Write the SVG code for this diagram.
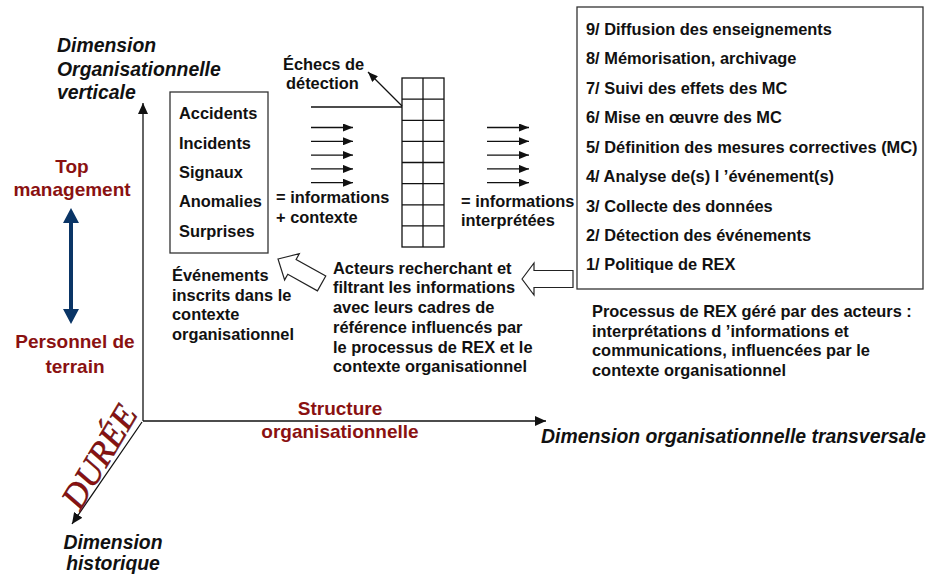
<svg xmlns="http://www.w3.org/2000/svg" width="929" height="575" viewBox="0 0 929 575">
<defs>
<style>
.t{font-family:"Liberation Sans",Arial,sans-serif;font-weight:bold;font-size:16.4px;fill:#111}
.ax{font-family:"Liberation Sans",Arial,sans-serif;font-weight:bold;font-style:italic;font-size:19.4px;fill:#111}
.red{font-family:"Liberation Sans",Arial,sans-serif;font-weight:bold;font-size:19px;fill:#8a1111}
.box{fill:#fff;stroke:#333;stroke-width:1.3}
.ln{stroke:#111;stroke-width:1.3;fill:none}
.grid{stroke:#111;stroke-width:1.3;fill:none}
.blk{fill:#fff;stroke:#222;stroke-width:1.2}
</style>
<marker id="ah" viewBox="0 0 10 8" refX="10" refY="4" markerWidth="10" markerHeight="8" markerUnits="userSpaceOnUse" orient="auto">
<path d="M0,0 L10,4 L0,8 z" fill="#111"/>
</marker>
<marker id="axh" viewBox="0 0 11 10" refX="11" refY="5" markerWidth="11" markerHeight="10" markerUnits="userSpaceOnUse" orient="auto">
<path d="M0,0 L11,5 L0,10 z" fill="#111"/>
</marker>
</defs>
<rect width="929" height="575" fill="#fff"/>

<g id="connectors">
<line class="ln" x1="143" y1="421" x2="143" y2="103" marker-end="url(#axh)"/>
<line class="ln" x1="143" y1="421" x2="546" y2="421" marker-end="url(#axh)"/>
<line class="ln" x1="142" y1="422" x2="72" y2="524" marker-end="url(#axh)"/>
<line class="ln" x1="311" y1="107" x2="402" y2="107"/>
<line class="ln" x1="402" y1="106" x2="368" y2="72" marker-end="url(#ah)"/>
<g>
<line class="ln" x1="311" y1="127.5" x2="353" y2="127.5" marker-end="url(#ah)"/>
<line class="ln" x1="311" y1="141.3" x2="353" y2="141.3" marker-end="url(#ah)"/>
<line class="ln" x1="311" y1="155.1" x2="353" y2="155.1" marker-end="url(#ah)"/>
<line class="ln" x1="311" y1="168.9" x2="353" y2="168.9" marker-end="url(#ah)"/>
<line class="ln" x1="311" y1="182.7" x2="353" y2="182.7" marker-end="url(#ah)"/>
</g>
<g>
<line class="ln" x1="487" y1="127.5" x2="529" y2="127.5" marker-end="url(#ah)"/>
<line class="ln" x1="487" y1="141.3" x2="529" y2="141.3" marker-end="url(#ah)"/>
<line class="ln" x1="487" y1="155.1" x2="529" y2="155.1" marker-end="url(#ah)"/>
<line class="ln" x1="487" y1="168.9" x2="529" y2="168.9" marker-end="url(#ah)"/>
<line class="ln" x1="487" y1="182.7" x2="529" y2="182.7" marker-end="url(#ah)"/>
</g>
<polygon class="blk" points="0,0 16,-15 16,-8.5 50,-8.5 50,8.5 16,8.5 16,15" transform="translate(278,259) rotate(29.3)"/>
<polygon class="blk" points="522,279 534,263 534,270.5 573,270.5 573,287.5 534,287.5 534,295"/>
<g fill="#0a3566">
<rect x="69" y="220" width="4" height="92"/>
<path d="M71,208 L79,223 L63,223 z"/>
<path d="M71,324 L79,309 L63,309 z"/>
</g>
</g>

<g id="axis-vertical-label">
<text class="ax" x="57" y="52">Dimension</text>
<text class="ax" x="57" y="75.5">Organisationnelle</text>
<text class="ax" x="57" y="99">verticale</text>
</g>

<g id="top-management">
<text class="red" x="72" y="173" text-anchor="middle">Top</text>
<text class="red" x="72" y="196" text-anchor="middle">management</text>
</g>

<g id="personnel-terrain">
<text class="red" x="75" y="348" text-anchor="middle">Personnel de</text>
<text class="red" x="75" y="372.5" text-anchor="middle">terrain</text>
</g>

<g id="events-box">
<rect class="box" x="170" y="92" width="98" height="161"/>
<text class="t" x="179" y="119">Accidents</text>
<text class="t" x="179" y="148.5">Incidents</text>
<text class="t" x="179" y="178">Signaux</text>
<text class="t" x="179" y="207">Anomalies</text>
<text class="t" x="179" y="236.5">Surprises</text>
</g>

<g id="echecs">
<text class="t" x="283" y="69.5">Échecs de</text>
<text class="t" x="286" y="89">détection</text>
</g>

<g id="info-contexte">
<text class="t" x="276" y="203">= informations</text>
<text class="t" x="276" y="222.5">+ contexte</text>
</g>

<g id="filter-grid">
<rect class="grid" x="402" y="78" width="42" height="169"/>
<line class="grid" x1="423" y1="78" x2="423" y2="247"/>
<line class="grid" x1="402" y1="99.1" x2="444" y2="99.1"/>
<line class="grid" x1="402" y1="120.3" x2="444" y2="120.3"/>
<line class="grid" x1="402" y1="141.4" x2="444" y2="141.4"/>
<line class="grid" x1="402" y1="162.5" x2="444" y2="162.5"/>
<line class="grid" x1="402" y1="183.6" x2="444" y2="183.6"/>
<line class="grid" x1="402" y1="204.8" x2="444" y2="204.8"/>
<line class="grid" x1="402" y1="225.9" x2="444" y2="225.9"/>
</g>

<g id="info-interpretees">
<text class="t" x="461" y="206.5">= informations</text>
<text class="t" x="461" y="226">interprétées</text>
</g>

<g id="process-box">
<rect class="box" x="577" y="7" width="346" height="282"/>
<text class="t" x="586" y="34.5">9/ Diffusion des enseignements</text>
<text class="t" x="586" y="64">8/ Mémorisation, archivage</text>
<text class="t" x="586" y="93.5">7/ Suivi des effets des MC</text>
<text class="t" x="586" y="123">6/ Mise en œuvre des MC</text>
<text class="t" x="586" y="152.5">5/ Définition des mesures correctives (MC)</text>
<text class="t" x="586" y="182">4/ Analyse de(s) l ’événement(s)</text>
<text class="t" x="586" y="211.5">3/ Collecte des données</text>
<text class="t" x="586" y="241">2/ Détection des événements</text>
<text class="t" x="586" y="270">1/ Politique de REX</text>
</g>

<g id="evenements-label">
<text class="t" x="172" y="281">Événements</text>
<text class="t" x="172" y="300.7">inscrits dans le</text>
<text class="t" x="172" y="320.4">contexte</text>
<text class="t" x="172" y="340">organisationnel</text>
</g>

<g id="acteurs-label">
<text class="t" x="333" y="273.5">Acteurs recherchant et</text>
<text class="t" x="333" y="293.3">filtrant les informations</text>
<text class="t" x="333" y="313">avec leurs cadres de</text>
<text class="t" x="333" y="332.8">référence influencés par</text>
<text class="t" x="333" y="352.6">le processus de REX et le</text>
<text class="t" x="333" y="372.4">contexte organisationnel</text>
</g>

<g id="processus-label">
<text class="t" x="592" y="317">Processus de REX géré par des acteurs :</text>
<text class="t" x="592" y="336.5">interprétations d ’informations et</text>
<text class="t" x="592" y="356">communications, influencées par le</text>
<text class="t" x="592" y="375.5">contexte organisationnel</text>
</g>

<g id="structure-label">
<text class="red" x="340" y="415" text-anchor="middle">Structure</text>
<text class="red" x="340" y="438" text-anchor="middle">organisationnelle</text>
</g>

<g id="axis-transversal-label">
<text class="ax" x="541" y="443">Dimension organisationnelle transversale</text>
</g>

<g id="duree">
<text x="0" y="11" text-anchor="middle" transform="translate(100,457) rotate(-59)" font-family="'Liberation Serif','Times New Roman',serif" font-style="italic" font-size="35" fill="#8a1111" stroke="#5a0808" stroke-width="0.5" textLength="114" lengthAdjust="spacingAndGlyphs">DURÉE</text>
</g>

<g id="axis-historique-label">
<text class="ax" x="113" y="548.5" text-anchor="middle">Dimension</text>
<text class="ax" x="113" y="570" text-anchor="middle">historique</text>
</g>
</svg>
